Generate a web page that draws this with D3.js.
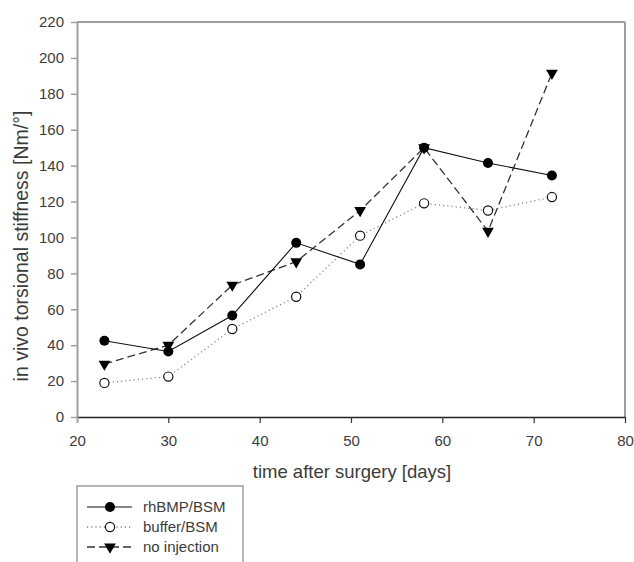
<!DOCTYPE html>
<html>
<head>
<meta charset="utf-8">
<script src="https://cdn.jsdelivr.net/npm/d3@7"></script>
<style>
  body { margin: 0; background: #fff; }
  svg { display: block; font-family: "Liberation Sans", Arial, sans-serif; }
</style>
</head>
<body>
<svg id="chart" width="634" height="562"></svg>
<script>
const days = [23, 30, 37, 44, 51, 58, 65, 72];
const rhBMP = [42.5, 36.5, 56.5, 97, 85, 150, 141.5, 134.5];
const buffer = [19, 22.5, 49, 67, 101, 119, 115, 122.5];
const noInjection = [29.5, 40, 73.5, 86.5, 115, 150, 103.5, 191.5];
const seriesNames = ["rhBMP/BSM", "buffer/BSM", "no injection"];
const xTicks = [20, 30, 40, 50, 60, 70, 80];
const yTicks = [0, 20, 40, 60, 80, 100, 120, 140, 160, 180, 200, 220];

const svg = d3.select("#chart");
const L = 77, R = 625, T = 22, B = 417;
const x = d3.scaleLinear().domain([20, 80]).range([L, R]);
const y = d3.scaleLinear().domain([0, 220]).range([B, T]);
const textCol = "#3c3c3c";
const frameCol = "#a0a0a0";

// frame top & right
svg.append("line").attr("x1", L).attr("x2", R).attr("y1", T).attr("y2", T)
  .attr("stroke", frameCol).attr("stroke-width", 2);
svg.append("line").attr("x1", R).attr("x2", R).attr("y1", T).attr("y2", B)
  .attr("stroke", frameCol).attr("stroke-width", 2);

// y axis
const yAxis = svg.append("g").attr("transform", `translate(${L},0)`)
  .call(d3.axisLeft(y).tickValues(yTicks).tickSize(6).tickPadding(7).tickSizeOuter(0));
yAxis.select(".domain").attr("stroke", frameCol).attr("stroke-width", 2);
yAxis.selectAll(".tick line").attr("stroke", frameCol).attr("stroke-width", 1.5);
yAxis.selectAll(".tick text").attr("fill", textCol).style("font-size", "15px");

// x axis
const xAxis = svg.append("g").attr("transform", `translate(0,${B})`)
  .call(d3.axisBottom(x).tickValues(xTicks).tickSize(6).tickPadding(12).tickSizeOuter(0));
xAxis.select(".domain").attr("stroke", "#222").attr("stroke-width", 1.3);
xAxis.selectAll(".tick line").attr("stroke", "#333").attr("stroke-width", 1.2);
xAxis.selectAll(".tick text").attr("fill", textCol).style("font-size", "15px");
xAxis.select(".tick line").attr("stroke", frameCol).attr("stroke-width", 2);

// axis titles
svg.append("text").attr("x", 352).attr("y", 478).attr("text-anchor", "middle")
  .attr("fill", textCol).style("font-size", "18.5px").text("time after surgery [days]");
svg.append("text").attr("transform", "translate(28,246) rotate(-90)").attr("text-anchor", "middle")
  .attr("fill", textCol).style("font-size", "19.5px").text("in vivo torsional stiffness [Nm/°]");

const styles = [
  { data: rhBMP, stroke: "#111", dash: null, width: 1.1, marker: "fcircle" },
  { data: buffer, stroke: "#888", dash: "1.2,3", width: 1.3, marker: "ocircle" },
  { data: noInjection, stroke: "#333", dash: "8,4", width: 1.3, marker: "tri" }
];

const line = d3.line().x(d => x(d[0])).y(d => y(d[1]));
const triSym = d3.symbol().type(d3.symbolTriangle).size(60);

function drawMarker(g, type, cx, cy) {
  if (type === "fcircle") {
    g.append("circle").attr("cx", cx).attr("cy", cy).attr("r", 5).attr("fill", "#000");
  } else if (type === "ocircle") {
    g.append("circle").attr("cx", cx).attr("cy", cy).attr("r", 4.6)
      .attr("fill", "#fff").attr("stroke", "#111").attr("stroke-width", 1.2);
  } else {
    g.append("path").attr("d", triSym())
      .attr("transform", `translate(${cx},${cy}) rotate(180)`).attr("fill", "#000");
  }
}

const plot = svg.append("g");
[1, 2, 0].forEach(i => {
  const s = styles[i];
  const pts = days.map((d, j) => [d, s.data[j]]);
  plot.append("path").attr("d", line(pts)).attr("fill", "none")
    .attr("stroke", s.stroke).attr("stroke-width", s.width)
    .attr("stroke-dasharray", s.dash);
});
[1, 2, 0].forEach(i => {
  const s = styles[i];
  days.forEach((d, j) => drawMarker(plot, s.marker, x(d), y(s.data[j])));
});

// legend
const lg = svg.append("g");
lg.append("rect").attr("x", 77).attr("y", 486).attr("width", 166).attr("height", 100)
  .attr("fill", "none").attr("stroke", frameCol).attr("stroke-width", 1.5);
seriesNames.forEach((name, i) => {
  const s = styles[i];
  const cy = 507 + i * 20;
  lg.append("line").attr("x1", 87).attr("x2", 132).attr("y1", cy).attr("y2", cy)
    .attr("stroke", s.stroke).attr("stroke-width", s.width)
    .attr("stroke-dasharray", s.dash);
  drawMarker(lg, s.marker, 110, cy);
  lg.append("text").attr("x", 143).attr("y", cy + 5).attr("fill", textCol)
    .style("font-size", "15px").text(name);
});
</script>
</body>
</html>
